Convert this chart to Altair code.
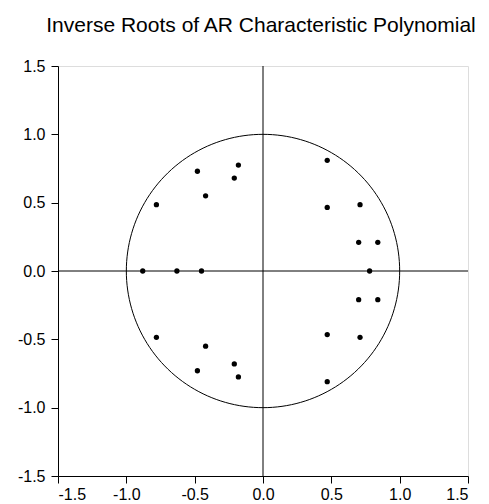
import altair as alt
import pandas as pd

real_parts = [-0.18, -0.18, -0.48, -0.48, -0.21, -0.21, -0.42, -0.42, -0.78, -0.78,
              -0.88, -0.63, -0.45,
              0.47, 0.47, 0.47, 0.47, 0.71, 0.71, 0.70, 0.70, 0.84, 0.84, 0.78]
imag_parts = [0.775, -0.775, 0.73, -0.73, 0.68, -0.68, 0.55, -0.55, 0.485, -0.485,
              0.0, 0.0, 0.0,
              0.81, -0.81, 0.465, -0.465, 0.485, -0.485, 0.21, -0.21, 0.21, -0.21, 0.0]
ticks = [-1.5, -1.0, -0.5, 0.0, 0.5, 1.0, 1.5]

pts = pd.DataFrame({"re": real_parts, "im": imag_parts})

xs = alt.Scale(domain=[-1.5, 1.5], nice=False, zero=False)
ys = alt.Scale(domain=[-1.5, 1.5], nice=False, zero=False)

axis_common = dict(values=ticks, format=".1f", grid=False, domainColor="black",
                   tickColor="black", tickSize=7, labelFont="Liberation Sans",
                   labelFontSize=16, labelColor="black", title=None,
                   labelExpr="replace(datum.label, '\u2212', '-')")

circle = alt.Chart(alt.sequence(0, 361, 2, as_="deg")).transform_calculate(
    cx="cos(datum.deg*PI/180)", cy="sin(datum.deg*PI/180)"
).mark_line(color="black", strokeWidth=1, clip=True).encode(
    x=alt.X("cx:Q", scale=xs, axis=alt.Axis(labelPadding=3, **axis_common)),
    y=alt.Y("cy:Q", scale=ys, axis=alt.Axis(labelPadding=6, **axis_common)),
    order="deg:Q",
)

zero = pd.DataFrame({"v": [0.0]})
vline = alt.Chart(zero).mark_rule(color="black", strokeWidth=1).encode(
    x=alt.X("v:Q", scale=xs))
hline = alt.Chart(zero).mark_rule(color="black", strokeWidth=1).encode(
    y=alt.Y("v:Q", scale=ys))

dots = alt.Chart(pts).mark_circle(color="black", opacity=1, size=28).encode(
    x=alt.X("re:Q", scale=xs),
    y=alt.Y("im:Q", scale=ys),
)

chart = alt.layer(circle, vline, hline, dots).properties(
    width=410, height=410,
    title=alt.TitleParams("Inverse Roots of AR Characteristic Polynomial",
                          font="Liberation Sans", fontSize=21, fontWeight="normal",
                          color="black", offset=22, anchor="middle", dx=-2),
    autosize=alt.AutoSizeParams(type="none"),
    padding={"left": 50, "top": 58, "right": 13, "bottom": 30},
).configure_view(stroke="black", strokeWidth=1).configure(background="white")

chart.save("out.html", embed_options={"renderer": "svg", "actions": False})
